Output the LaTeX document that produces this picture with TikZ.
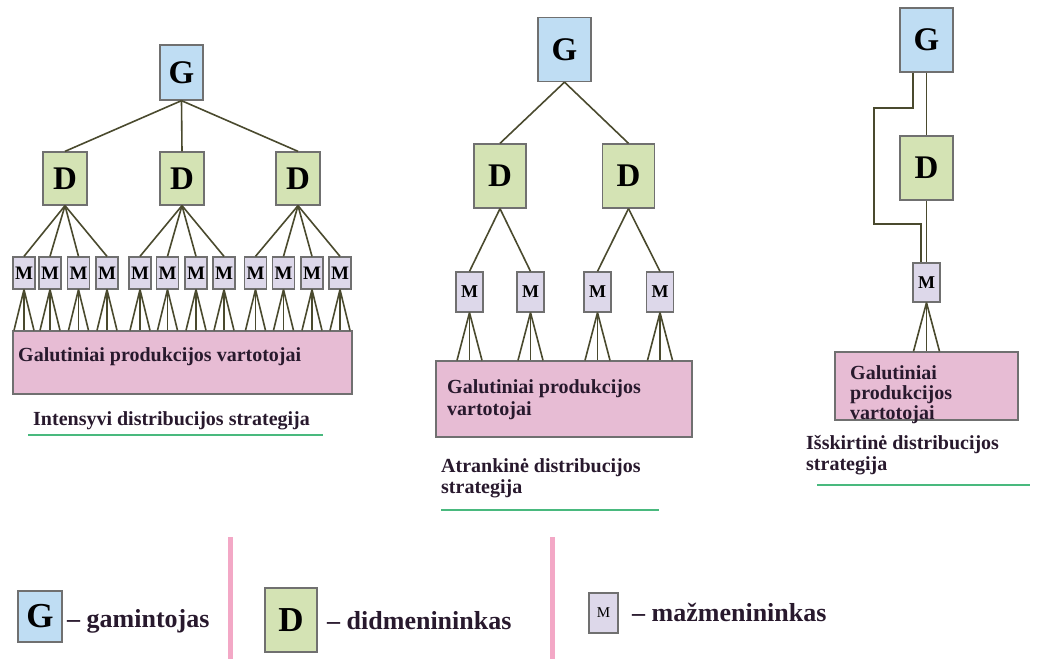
\documentclass[tikz,border=0pt]{standalone}
\usepackage{fontspec}
\setmainfont{Liberation Serif}
\usetikzlibrary{calc}

\definecolor{gblue}{RGB}{191,221,243}
\definecolor{dgreen}{RGB}{212,227,180}
\definecolor{mlav}{RGB}{221,216,234}
\definecolor{cpink}{RGB}{231,188,212}
\definecolor{edgegray}{RGB}{112,112,112}
\definecolor{linkolive}{RGB}{74,74,46}
\definecolor{sepink}{RGB}{243,168,198}
\definecolor{ulgreen}{RGB}{73,185,126}
\definecolor{txtdark}{RGB}{40,25,45}

\begin{document}
\begin{tikzpicture}[x=1pt,y=-1pt,
  box/.style={draw=edgegray,line width=1.3pt,inner sep=0pt},
  gbox/.style={box,fill=gblue,minimum width=53pt,minimum height=64pt,font=\fontsize{33}{34}\selectfont\bfseries},
  dbox/.style={box,fill=dgreen,minimum width=52pt,minimum height=64pt,font=\fontsize{33}{34}\selectfont\bfseries},
  mbox/.style={box,fill=mlav,minimum width=27pt,minimum height=40pt,font=\fontsize{18}{20}\selectfont\bfseries},
  cbox/.style={box,fill=cpink},
  conn/.style={draw=linkolive,line width=1.6pt},
  btxt/.style={anchor=west,inner sep=0pt,align=left,text=txtdark,font=\fontsize{20}{21}\selectfont\bfseries},
  ltxt/.style={anchor=west,inner sep=0pt,text=txtdark,font=\fontsize{26}{28}\selectfont\bfseries},
  uline/.style={draw=ulgreen,line width=1.3pt}]
\useasboundingbox (0,0) rectangle (1042,659);

% Intensyvi
\node[gbox,minimum width=43pt,minimum height=55pt] (lg) at (181.5,72.5) {G};
\foreach \x [count=\i] in {65,182,298}
  \node[dbox,minimum width=44pt,minimum height=53pt] (ld\i) at (\x,178.5) {D};
\foreach \x [count=\i] in {24,50,78.5,107,140,167.5,196,224,255.5,283.5,312,340}
  \node[mbox,minimum width=22pt,minimum height=32pt,font=\fontsize{19}{20}\selectfont\bfseries] (lm\i) at (\x,273) {M};
\node[cbox,minimum width=339pt,minimum height=63pt] (lbox) at (182.5,362.5) {};
\node[btxt] (ltext) at (18,357) {Galutiniai produkcijos vartotojai};
\node[btxt] (lcap) at (33,421) {Intensyvi distribucijos strategija};
\coordinate (lu1) at (28,435);
\coordinate (lu2) at (323,435);
\draw[uline] (lu1) -- (lu2);

\foreach \i in {1,2,3}
  \draw[conn] (lg.south) -- (ld\i.north);
\foreach \i in {1,...,12} {
  \pgfmathtruncatemacro{\k}{int((\i-1)/4)+1}
  \draw[conn] (ld\k.south) -- (lm\i.north);
  \foreach \d in {-10,0,10}
    \draw[conn] (lm\i.south) -- ($(lm\i.south |- lbox.north)+(\d,0)$);
}

% Atrankine
\node[gbox] (mg) at (564.5,49.5) {G};
\foreach \x [count=\i] in {500,628.5}
  \node[dbox] (md\i) at (\x,176) {D};
\foreach \x [count=\i] in {469.5,530.5,597.5,660}
  \node[mbox] (mm\i) at (\x,292) {M};
\node[cbox,minimum width=256pt,minimum height=76pt] (mbox) at (564,399) {};
\node[btxt,font=\fontsize{20}{22}\selectfont\bfseries] (mtext) at (447,400) {Galutiniai produkcijos\\vartotojai};
\node[btxt] (mcap) at (441,478) {Atrankinė distribucijos\\strategija};
\coordinate (mu1) at (441,510);
\coordinate (mu2) at (659,510);
\draw[uline] (mu1) -- (mu2);

\foreach \i in {1,2}
  \draw[conn] (mg.south) -- (md\i.north);
\foreach \i in {1,...,4} {
  \pgfmathtruncatemacro{\k}{int((\i-1)/2)+1}
  \draw[conn] (md\k.south) -- (mm\i.north);
  \foreach \d in {-12.5,0,12.5}
    \draw[conn] (mm\i.south) -- ($(mm\i.south |- mbox.north)+(\d,0)$);
}

% Isskirtine
\node[gbox] (rg) at (926.5,40) {G};
\node[dbox,minimum width=53pt] (rd) at (926.5,168) {D};
\node[mbox,minimum height=39pt] (rm) at (926.5,282.5) {M};
\node[cbox,minimum width=183pt,minimum height=68pt] (rbox) at (926.5,386) {};
\node[btxt,font=\fontsize{20}{20}\selectfont\bfseries] (rtext) at (850,395) {Galutiniai\\produkcijos\\vartotojai};
\node[btxt] (rcap) at (806,455) {Išskirtinė distribucijos\\strategija};
\coordinate (ru1) at (817,485);
\coordinate (ru2) at (1030,485);
\draw[uline] (ru1) -- (ru2);

\draw[conn] (rg.south) -- (rd.north);
\draw[conn] (rd.south) -- (rm.north);
\draw[conn] ($(rg.south)+(-13.5,0)$) |- (874,108) |- (921,224) -- ($(rm.north)+(-5.5,0)$);
\foreach \d in {-13,0,13}
  \draw[conn] (rm.south) -- ($(rm.south |- rbox.north)+(\d,0)$);

% legenda
\coordinate (p1a) at (230,537);
\coordinate (p1b) at (230,659);
\coordinate (p2a) at (552,537);
\coordinate (p2b) at (552,659);
\draw[sepink,line width=5pt] (p1a) -- (p1b);
\draw[sepink,line width=5pt] (p2a) -- (p2b);

\node[gbox,minimum width=44pt,minimum height=51pt,font=\fontsize{35}{36}\selectfont\bfseries] (kg) at (40,616.5) {G};
\node[ltxt] (kgt) at (67,621) {– gamintojas};
\node[dbox,minimum width=52pt,minimum height=64pt,font=\fontsize{35}{36}\selectfont\bfseries] (kd) at (291,620) {D};
\node[ltxt] (kdt) at (327,621) {– didmenininkas};
\node[mbox,minimum width=29pt,minimum height=40pt,font=\fontsize{15}{16}\selectfont] (km) at (603.5,613) {M};
\node[ltxt] (kmt) at (632,612) {– mažmenininkas};
\end{tikzpicture}
\end{document}
